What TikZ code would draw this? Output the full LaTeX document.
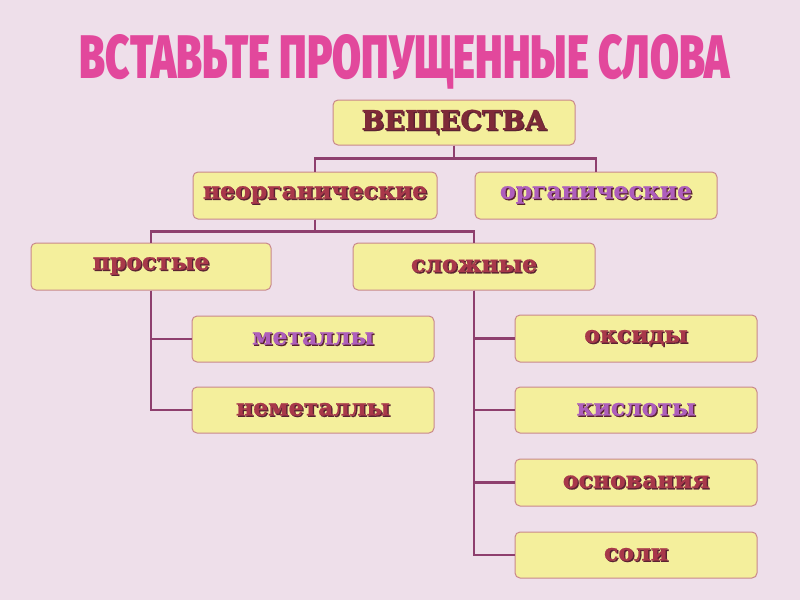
\documentclass[tikz,border=0pt]{standalone}
\usepackage{fontspec}
\setmainfont{DejaVu Serif}[BoldFeatures={FakeBold=0.8}]
\newfontfamily\titlefont{Fira Sans Black}
\usepackage{graphicx}
\definecolor{bgc}{HTML}{EEDFEA}
\definecolor{boxfill}{HTML}{F4EF9C}
\definecolor{boxline}{HTML}{C9888C}
\definecolor{connc}{HTML}{8E3F6E}
\definecolor{titlec}{HTML}{E2489C}
\definecolor{redtxt}{HTML}{A8384A}
\definecolor{purtxt}{HTML}{AE5EBC}
\definecolor{darkshadow}{HTML}{5A2232}
\newcommand\shtxt[2]{\makebox[0pt][l]{\kern1.3pt\raisebox{-1.3pt}{\textcolor{darkshadow}{#2}}}\textcolor{#1}{#2}}
\tikzset{
  box/.style={draw=boxline, line width=1pt, fill=boxfill, rounded corners=5pt,
    minimum width=242pt, minimum height=47pt, inner sep=0pt,
    font=\fontsize{23.5}{26}\selectfont\bfseries},
  conn/.style={draw=connc, line width=2.4pt},
}
\begin{document}
\begin{tikzpicture}[x=1pt,y=-1pt]
\fill[bgc] (0,0) rectangle (800,600);
\useasboundingbox (0,0) rectangle (800,600);
\node[anchor=base, inner sep=0pt, text=titlec] (title) at (405,78.5)
  {\resizebox{650pt}{44pt}{\titlefont ВСТАВЬТЕ ПРОПУЩЕННЫЕ СЛОВА}};
\node[box, minimum height=45pt, font=\fontsize{27}{29}\selectfont\bfseries] (v) at (454,122.5) {\shtxt{redtxt!75!black}{ВЕЩЕСТВА}};
\node[box, minimum width=244pt] (neorg) at (315,195.5) {\shtxt{redtxt}{неорганические}};
\node[box] (org) at (596,195.5) {\shtxt{purtxt}{органические}};
\node[box, minimum width=240pt] (prost) at (151,266.5) {\shtxt{redtxt}{простые}};
\node[box] (slozh) at (474,266.5) {\shtxt{redtxt}{сложные}};
\node[box, minimum height=46pt] (met) at (313,339) {\shtxt{purtxt}{металлы}};
\node[box, minimum height=46pt] (nemet) at (313,410) {\shtxt{redtxt}{неметаллы}};
\node[box] (oks) at (636,338.5) {\shtxt{redtxt}{оксиды}};
\node[box, minimum height=46pt] (kisl) at (636,410) {\shtxt{purtxt}{кислоты}};
\node[box] (osn) at (636,482.5) {\shtxt{redtxt}{основания}};
\node[box, minimum height=46pt] (soli) at (636,555) {\shtxt{redtxt}{соли}};
% connectors
\draw[conn] (v.south) -- ++(0,13) -| (neorg.north);
\draw[conn] (v.south) -- ++(0,13) -| (org.north);
\draw[conn] (neorg.south) -- ++(0,12) -| (prost.north);
\draw[conn] (neorg.south) -- ++(0,12) -| (slozh.north);
\draw[conn] (prost.south) |- (met.west);
\draw[conn] (prost.south) |- (nemet.west);
\draw[conn] (slozh.south) |- (oks.west);
\draw[conn] (slozh.south) |- (kisl.west);
\draw[conn] (slozh.south) |- (osn.west);
\draw[conn] (slozh.south) |- (soli.west);
\end{tikzpicture}
\end{document}
